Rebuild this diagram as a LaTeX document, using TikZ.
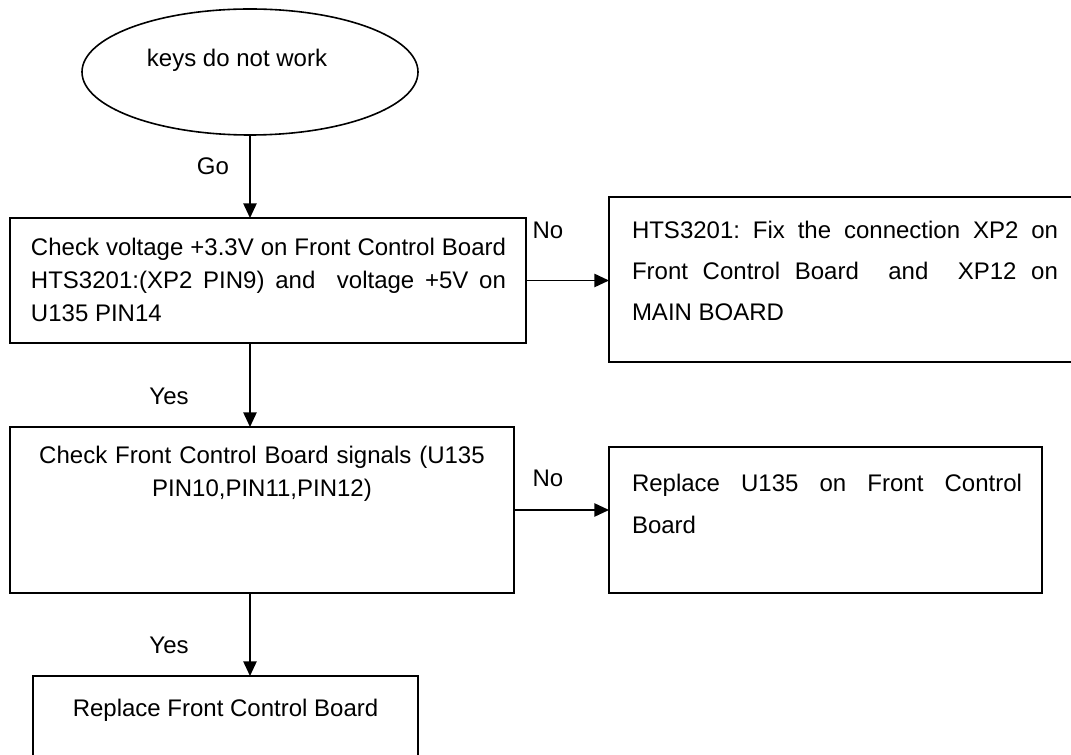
\documentclass[tikz,border=0pt]{standalone}
\usepackage{fontspec}
\setmainfont{Liberation Sans}
\usetikzlibrary{arrows.meta,shapes.geometric}
\frenchspacing
\tikzset{
  x=0.75pt, y=-0.75pt,
  every node/.style={inner sep=0pt, outer sep=0pt},
  box/.style={draw, line width=1.2pt, rectangle, fill=none},
  oval/.style={draw, line width=1.2pt, ellipse},
  body/.style={font=\fontsize{18}{24.75}\selectfont},
  lbl/.style={font=\fontsize{18}{21}\selectfont, anchor=base},
  conn/.style={line width=1.2pt, -{Triangle[length=11pt,width=10pt]}},
}
\begin{document}
\begin{tikzpicture}
\clip (0,0) rectangle (1071,755);
\fill[white] (0,0) rectangle (1071,755);

% start oval
\node[oval, minimum width=252pt, minimum height=94.5pt] (e) at (250,72) {};
\node[lbl] (et) at (237,66.6) {keys do not work};

% boxes
\node[box, minimum width=387pt, minimum height=93.75pt] (b1) at (268,280.5) {};
\node[box, minimum width=349.5pt, minimum height=123.75pt] (b2) at (842,279.5) {};
\node[box, minimum width=378pt, minimum height=124.5pt] (b3) at (262,510) {};
\node[box, minimum width=324.75pt, minimum height=109.5pt] (b4) at (825.5,520) {};
\node[box, minimum width=288.75pt, minimum height=85.5pt] (b5) at (225.5,733) {};

% box texts
\node[body, anchor=north west, text width=356.25pt, align=justify] (t1) at (31,238)
  {Check voltage +3.3V on Front Control Board\linebreak HTS3201:(XP2 PIN9) and\ \ voltage +5V on\linebreak U135 PIN14};
\node[body, font=\fontsize{18}{30.75}\selectfont, anchor=north west, text width=319.5pt, align=justify] (t2) at (632,221)
  {HTS3201: Fix the connection XP2 on\linebreak Front Control Board\ \ and\ \ XP12 on\linebreak MAIN BOARD};
\node[body, anchor=north, text width=360pt, align=center] (t3) at (262,446)
  {Check Front Control Board signals (U135\\ PIN10,PIN11,PIN12)};
\node[body, font=\fontsize{18}{31.5}\selectfont, anchor=north west, text width=292.5pt, align=justify] (t4) at (632,474)
  {Replace U135 on Front Control\linebreak Board};
\node[body, anchor=north] (t5) at (225.5,699) {Replace Front Control Board};

% labels
\node[lbl] (go) at (213,174.6) {Go};
\node[lbl] (y1) at (169,404.6) {Yes};
\node[lbl] (y2) at (169,653.6) {Yes};
\node[lbl] (n1) at (548,238.6) {No};
\node[lbl] (n2) at (548,486.6) {No};

% connectors
\draw[conn] (e.south) -- (e.south |- b1.north);
\draw[conn] (e.south |- b1.south) -- (e.south |- b3.north);
\draw[conn] (e.south |- b3.south) -- (e.south |- b5.north);
\draw[conn] (b1.east) -- (b1.east -| b2.west);
\draw[conn] (b3.east) -- (b3.east -| b4.west);
\end{tikzpicture}
\end{document}
